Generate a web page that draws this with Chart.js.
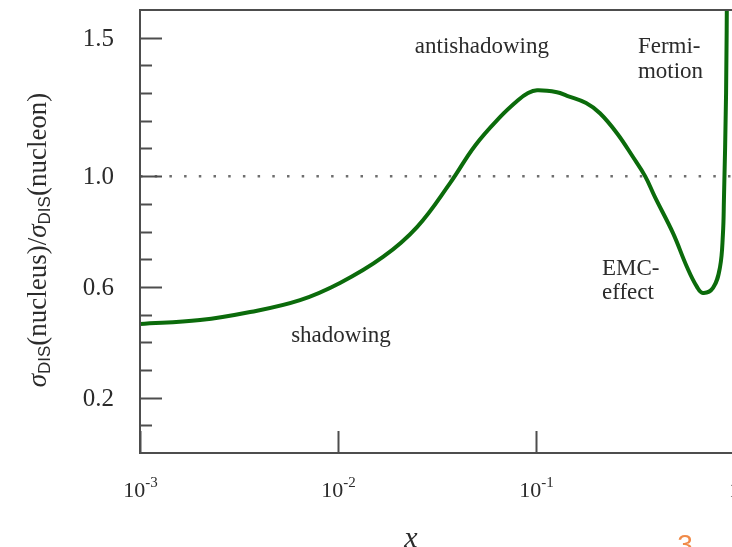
<!DOCTYPE html>
<html>
<head>
<meta charset="utf-8">
<script src="https://cdn.jsdelivr.net/npm/chart.js@4.4.1/dist/chart.umd.min.js"></script>
<style>
  html, body { margin: 0; padding: 0; background: #fff; overflow: hidden; }
  #wrap { position: relative; width: 760px; height: 547px; }
</style>
</head>
<body>
<div id="wrap"><canvas id="ratio" width="760" height="547"></canvas></div>
<script>
// nuclear structure-function ratio vs Bjorken x
const ratioX = [0.001, 0.00201, 0.0036, 0.00643, 0.01023, 0.01687, 0.02506, 0.03681, 0.0492,
                0.06577, 0.0811, 0.0912, 0.1012, 0.1276, 0.1435, 0.1791, 0.2104, 0.2564,
                0.309, 0.3556, 0.399, 0.492, 0.5794, 0.6501, 0.6966, 0.7834, 0.8492, 0.879,
                0.8892, 0.912, 0.9226];
const ratioY = [0.466, 0.48, 0.509, 0.552, 0.614, 0.708, 0.816, 0.975, 1.11,
                1.213, 1.274, 1.30, 1.31, 1.303, 1.29, 1.264, 1.227, 1.155,
                1.069, 1.0, 0.924, 0.794, 0.671, 0.60, 0.578, 0.596, 0.67, 0.79,
                0.91, 1.3, 1.75];

const unityX = [0.001, 1];
const unityY = [1, 1];

const yTicks = [0.1, 0.2, 0.3, 0.4, 0.5, 0.6, 0.7, 0.8, 0.9, 1.0, 1.1, 1.2, 1.3, 1.4, 1.5];
const yLabelled = [0.2, 0.6, 1.0, 1.5];
const xTicks = [0.001, 0.01, 0.1, 1];
const xTickExp = ['-3', '-2', '-1', ''];

const regionNames = [['antishadowing'], ['shadowing'], ['Fermi-', 'motion'], ['EMC-', 'effect']];

const serif = '"Liberation Serif", "Times New Roman", serif';
const sans = '"Liberation Sans", Arial, sans-serif';
const ink = '#2b2b2b';
const axisColor = '#4d4d4d';

// where the region names sit, in data units (x value, y value of first baseline)
const notePlaces = [
  {x: 0.0533, y: 1.444, align: 'center'},
  {x: 0.01035, y: 0.401, align: 'center'},
  {x: 0.327, y: 1.444, align: 'left'},
  {x: 0.2154, y: 0.643, align: 'left'}
];

const frame = {
  id: 'frame',
  afterDraw(chart) {
    const {ctx, chartArea: a, scales: {x, y}} = chart;
    ctx.save();
    ctx.strokeStyle = axisColor;
    ctx.lineWidth = 2;
    ctx.beginPath();
    ctx.rect(a.left, a.top, a.right - a.left, a.bottom - a.top);
    ctx.stroke();

    // y ticks, drawn inward
    ctx.fillStyle = ink;
    ctx.font = '25px ' + serif;
    ctx.textAlign = 'right';
    ctx.textBaseline = 'middle';
    yTicks.forEach(v => {
      const py = Math.round(y.getPixelForValue(v)) + 0.5;
      const big = yLabelled.some(l => Math.abs(l - v) < 1e-6);
      ctx.beginPath();
      ctx.moveTo(a.left, py);
      ctx.lineTo(a.left + (big ? 22 : 12), py);
      ctx.stroke();
      if (big) ctx.fillText(v.toFixed(1), a.left - 26, py + 1);
    });

    // x ticks and 10^n labels
    xTicks.forEach((v, i) => {
      const px = Math.round(x.getPixelForValue(v)) + 0.5;
      ctx.beginPath();
      ctx.moveTo(px, a.bottom);
      ctx.lineTo(px, a.bottom - 22);
      ctx.stroke();
      const base = xTickExp[i] ? '10' : '1';
      ctx.font = '22px ' + serif;
      const wb = ctx.measureText(base).width;
      ctx.font = '15px ' + serif;
      const we = xTickExp[i] ? ctx.measureText(xTickExp[i]).width : 0;
      const x0 = px - (wb + we) / 2;
      ctx.textAlign = 'left';
      ctx.textBaseline = 'alphabetic';
      ctx.font = '22px ' + serif;
      ctx.fillText(base, x0, 497);
      if (we) {
        ctx.font = '15px ' + serif;
        ctx.fillText(xTickExp[i], x0 + wb, 487);
      }
    });

    // region names
    ctx.font = '23px ' + serif;
    ctx.textBaseline = 'alphabetic';
    regionNames.forEach((lines, i) => {
      const p = notePlaces[i];
      ctx.textAlign = p.align;
      const px = x.getPixelForValue(p.x);
      const py = y.getPixelForValue(p.y);
      lines.forEach((t, k) => ctx.fillText(t, px, py + k * 24.5));
    });

    // x axis title
    ctx.textAlign = 'center';
    ctx.font = 'italic 30px ' + serif;
    ctx.fillText('x', 411, 547);

    // y axis title with DIS subscripts, rotated
    ctx.translate(46, 240);
    ctx.rotate(-Math.PI / 2);
    const parts = [
      {t: '\u03c3', f: 'italic 27px ' + serif, dy: 0},
      {t: 'DIS', f: '17px ' + sans, dy: 4},
      {t: '(nucleus)/', f: '27px ' + serif, dy: 0},
      {t: '\u03c3', f: 'italic 27px ' + serif, dy: 0},
      {t: 'DIS', f: '17px ' + sans, dy: 4},
      {t: '(nucleon)', f: '27px ' + serif, dy: 0}
    ];
    let total = 0;
    parts.forEach(p => { ctx.font = p.f; p.w = ctx.measureText(p.t).width; total += p.w; });
    let cx = -total / 2;
    ctx.textAlign = 'left';
    parts.forEach(p => {
      ctx.font = p.f;
      ctx.fillText(p.t, cx, p.dy);
      cx += p.w;
    });
    ctx.restore();

    // page number peeking in at the bottom
    ctx.save();
    ctx.fillStyle = '#f08a48';
    ctx.font = '28px ' + sans;
    ctx.textAlign = 'center';
    ctx.textBaseline = 'top';
    ctx.fillText('3', 685, 532);
    ctx.restore();
  }
};

new Chart(document.getElementById('ratio'), {
  type: 'line',
  data: {
    datasets: [
      {
        data: unityX.map((v, i) => ({x: v, y: unityY[i]})),
        borderColor: '#6e6e6e',
        borderWidth: 2.5,
        borderDash: [2.5, 12.2],
        pointRadius: 0
      },
      {
        data: ratioX.map((v, i) => ({x: v, y: ratioY[i]})),
        borderColor: '#0b6b0b',
        borderWidth: 4,
        pointRadius: 0,
        tension: 0.4,
        clip: {left: 3, top: 0, right: 3, bottom: 3}
      }
    ]
  },
  options: {
    responsive: false,
    animation: false,
    layout: {padding: {top: 10, right: 26, left: 0, bottom: 0}},
    plugins: {legend: {display: false}, tooltip: {enabled: false}},
    scales: {
      x: {
        type: 'logarithmic',
        min: 0.001,
        max: 1,
        grid: {display: false},
        border: {display: false},
        ticks: {display: false},
        afterFit: s => { s.height = 94; }
      },
      y: {
        min: 0,
        max: 1.6,
        grid: {display: false},
        border: {display: false},
        ticks: {display: false},
        afterFit: s => { s.width = 140; }
      }
    }
  },
  plugins: [frame]
});
</script>
</body>
</html>
